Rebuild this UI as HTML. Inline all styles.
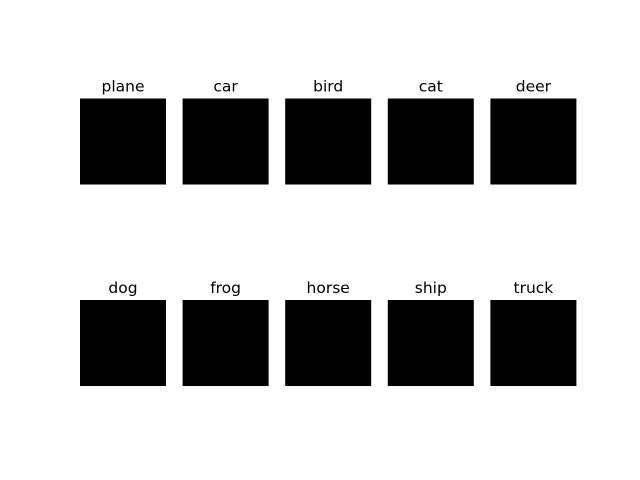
<!DOCTYPE html>
<html><head><meta charset="utf-8"><style>
body{margin:0;background:#fff;}
svg{display:block;font-family:"DejaVu Sans","Liberation Sans",sans-serif;}
</style></head><body>
<svg id="fig" width="640" height="480" viewBox="0 0 640 480" xmlns="http://www.w3.org/2000/svg">
<rect x="0" y="0" width="640" height="480" fill="#fff"/>
</svg>
<script>
const classes = ["plane","car","bird","cat","deer","dog","frog","horse","ship","truck"];
const colLeft = [80, 182.6, 285.2, 387.8, 490.4];
const rowTop = [98.5, 300];
const size = 86;
const svg = document.getElementById('fig');
const NS = 'http://www.w3.org/2000/svg';
classes.forEach((c, i) => {
  const r = Math.floor(i / 5), k = i % 5;
  const x = colLeft[k], y = rowTop[r];
  const rect = document.createElementNS(NS, 'rect');
  rect.setAttribute('x', x); rect.setAttribute('y', y);
  rect.setAttribute('width', size); rect.setAttribute('height', size);
  rect.setAttribute('fill', '#000');
  
  
  svg.appendChild(rect);
  const t = document.createElementNS(NS, 'text');
  t.setAttribute('x', x + size / 2); t.setAttribute('y', y - 7);
  t.setAttribute('text-anchor', 'middle');
  t.setAttribute('font-size', '15.5');
  t.setAttribute('fill', '#000');
  t.textContent = c;
  
  
  svg.appendChild(t);
});
</script>
</body></html>
